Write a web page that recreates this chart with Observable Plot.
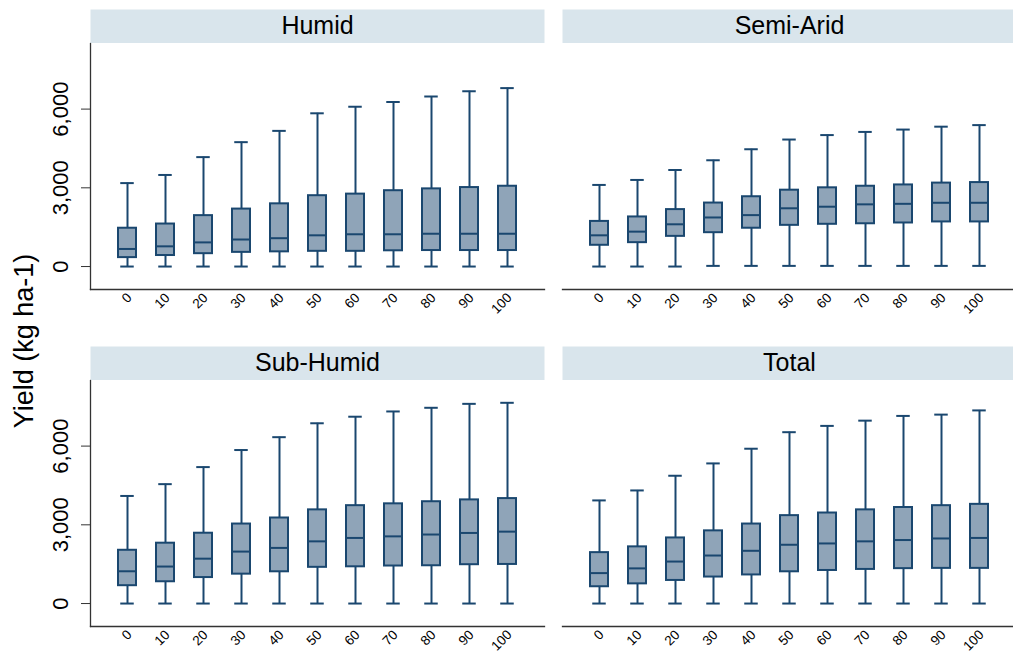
<!DOCTYPE html>
<html>
<head>
<meta charset="utf-8">
<script src="https://cdn.jsdelivr.net/npm/d3@7"></script>
<script src="https://cdn.jsdelivr.net/npm/@observablehq/plot@0.6"></script>
<style>
  html, body { margin: 0; padding: 0; background: #fff; overflow: hidden; }
  #chart { width: 1013px; height: 653px; }
</style>
</head>
<body>
<div id="chart"></div>
<script>
// Categories along the x axis of every panel
const levels = [0, 10, 20, 30, 40, 50, 60, 70, 80, 90, 100];
// Panels, laid out row by row in a 2 x 2 grid
const regions = ["Humid", "Semi-Arid", "Sub-Humid", "Total"];

// Box-plot statistics, yield in kg ha-1
const humidMin    = [0, 0, 0, 0, 0, 0, 0, 0, 0, 0, 0];
const humidQ1     = [340, 420, 490, 540, 560, 580, 580, 600, 610, 610, 610];
const humidMedian = [670, 770, 920, 1030, 1080, 1190, 1230, 1230, 1250, 1250, 1250];
const humidQ3     = [1460, 1620, 1940, 2190, 2390, 2700, 2760, 2890, 2960, 3010, 3060];
const humidMax    = [3180, 3490, 4170, 4740, 5170, 5840, 6090, 6270, 6480, 6680, 6800];

const semiAridMin    = [0, 0, 0, 25, 25, 25, 25, 25, 25, 25, 25];
const semiAridQ1     = [810, 910, 1150, 1290, 1460, 1570, 1610, 1630, 1660, 1700, 1700];
const semiAridMedian = [1190, 1330, 1610, 1870, 1960, 2220, 2280, 2370, 2390, 2430, 2430];
const semiAridQ3     = [1720, 1890, 2170, 2420, 2660, 2910, 3000, 3060, 3110, 3180, 3200];
const semiAridMax    = [3110, 3300, 3680, 4050, 4470, 4840, 5010, 5130, 5220, 5330, 5390];

const subHumidMin    = [0, 0, 0, 0, 0, 0, 0, 0, 0, 0, 0];
const subHumidQ1     = [680, 830, 990, 1120, 1210, 1380, 1400, 1430, 1440, 1480, 1490];
const subHumidMedian = [1230, 1410, 1710, 1980, 2120, 2370, 2500, 2560, 2630, 2690, 2740];
const subHumidQ3     = [2030, 2300, 2680, 3030, 3260, 3570, 3730, 3800, 3880, 3950, 4000];
const subHumidMax    = [4100, 4550, 5200, 5850, 6340, 6870, 7120, 7320, 7460, 7610, 7650];

const totalMin    = [0, 0, 0, 0, 0, 0, 0, 0, 0, 0, 0];
const totalQ1     = [640, 750, 880, 1010, 1090, 1210, 1260, 1300, 1330, 1340, 1340];
const totalMedian = [1160, 1340, 1600, 1830, 2010, 2240, 2290, 2370, 2420, 2480, 2500];
const totalQ3     = [1940, 2160, 2500, 2770, 3030, 3350, 3450, 3570, 3660, 3730, 3780];
const totalMax    = [3930, 4310, 4870, 5340, 5900, 6530, 6770, 6970, 7150, 7200, 7360];

const yTicks = [0, 3000, 6000];
const yTitle = "Yield (kg ha-1)";

// Long table: one row per box
const series = {
  "Humid":     [humidMin, humidQ1, humidMedian, humidQ3, humidMax],
  "Semi-Arid": [semiAridMin, semiAridQ1, semiAridMedian, semiAridQ3, semiAridMax],
  "Sub-Humid": [subHumidMin, subHumidQ1, subHumidMedian, subHumidQ3, subHumidMax],
  "Total":     [totalMin, totalQ1, totalMedian, totalQ3, totalMax]
};
const boxes = regions.flatMap(region => {
  const [mn, q1, md, q3, mx] = series[region];
  return levels.map((level, i) => ({region, level, min: mn[i], q1: q1[i], median: md[i], q3: q3[i], max: mx[i]}));
});

// Layout
const W = 1013, H = 653;
const mTop = 43, mBottom = 26, mLeft = 89, mRight = -4;
const rowPad = 0.2696, colPad = 0.03805;
const panelH = (H - mTop - mBottom) * (1 - rowPad) / (2 - rowPad);
const headerH = 34;

const navy = "#1a476f";
const boxFill = "#8fa4b8";
const headerFill = "#d9e5ec";
const axisColor = "#333";

const col = r => regions.indexOf(r) % 2;
const row = r => Math.floor(regions.indexOf(r) / 2);
const fx = d => col(d.region);
const fy = d => row(d.region);

const chart = Plot.plot({
  width: W,
  height: H,
  marginTop: mTop,
  marginBottom: mBottom,
  marginLeft: mLeft,
  marginRight: mRight,
  style: {fontFamily: "'Liberation Sans', Arial, sans-serif", color: "#000", background: "#fff"},
  fx: {domain: [0, 1], paddingInner: colPad, paddingOuter: 0, axis: null},
  fy: {domain: [0, 1], paddingInner: rowPad, paddingOuter: 0, axis: null},
  x: {type: "band", domain: levels, paddingInner: 0.514, paddingOuter: 0.728},
  y: {domain: [-875, 8500]},
  marks: [
    // panel header strips
    Plot.frame({fill: headerFill, stroke: "none", insetTop: -headerH, insetBottom: panelH}),
    Plot.text(regions, {fx: col, fy: row, text: d => d, frameAnchor: "top", lineAnchor: "bottom", dy: -9.7, fontSize: 25, fill: "#000"}),
    // axis lines
    Plot.frame({anchor: "left", facetAnchor: "left", stroke: axisColor, strokeWidth: 1.3}),
    Plot.frame({anchor: "bottom", stroke: axisColor, strokeWidth: 1.3}),
    Plot.axisY({ticks: yTicks, tickFormat: d3.format(","), tickRotate: -90, tickSize: 9, tickPadding: 13.5, fontSize: 22, label: null, stroke: axisColor}),
    Plot.axisX({facetAnchor: null, tickRotate: -45, tickSize: 0, tickPadding: 6, dx: 2, fontSize: 13.5, label: null}),
    // whiskers and caps
    Plot.ruleX(boxes, {fx, fy, x: "level", y1: "min", y2: "max", stroke: navy, strokeWidth: 2}),
    Plot.tickY(boxes, {fx, fy, x: "level", y: "min", stroke: navy, strokeWidth: 2, insetLeft: 2.25, insetRight: 2.25}),
    Plot.tickY(boxes, {fx, fy, x: "level", y: "max", stroke: navy, strokeWidth: 2, insetLeft: 2.25, insetRight: 2.25}),
    // interquartile boxes and medians
    Plot.barY(boxes, {fx, fy, x: "level", y1: "q1", y2: "q3", fill: boxFill, stroke: navy, strokeWidth: 2}),
    Plot.tickY(boxes, {fx, fy, x: "level", y: "median", stroke: navy, strokeWidth: 2})
  ]
});

// shared y-axis title, centred on the left edge
d3.select(chart).append("text")
  .attr("transform", "translate(33,341) rotate(-90)")
  .attr("text-anchor", "middle")
  .attr("font-size", 27)
  .attr("fill", "#000")
  .text(yTitle);

document.getElementById("chart").appendChild(chart);
</script>
</body>
</html>
